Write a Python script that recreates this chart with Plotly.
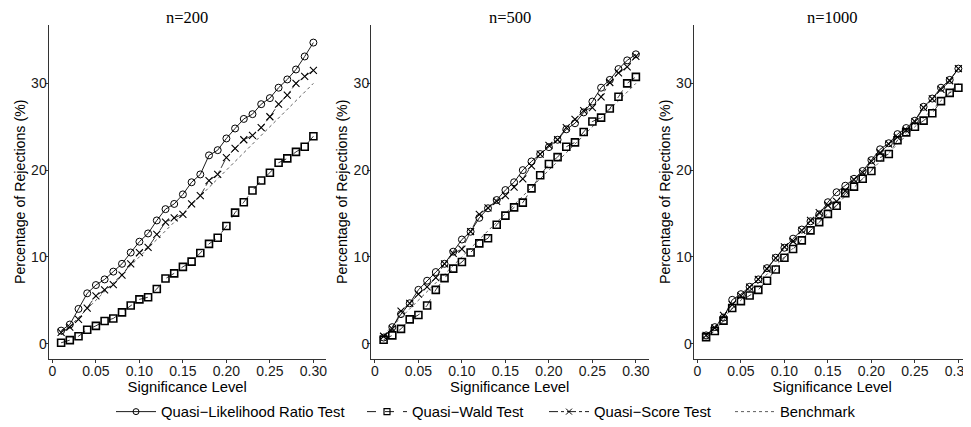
import plotly.graph_objects as go

alpha = [0.01, 0.02, 0.03, 0.04, 0.05, 0.06, 0.07, 0.08, 0.09, 0.10,
         0.11, 0.12, 0.13, 0.14, 0.15, 0.16, 0.17, 0.18, 0.19, 0.20,
         0.21, 0.22, 0.23, 0.24, 0.25, 0.26, 0.27, 0.28, 0.29, 0.30]
panel_titles = ["n=200", "n=500", "n=1000"]

lr_200 = [1.5, 2.2, 4.0, 5.8, 6.75, 7.4, 8.3, 9.2, 10.5, 11.75, 12.7, 14.2, 15.5, 16.1, 17.2,
          18.6, 19.5, 21.7, 22.3, 23.65, 24.8, 25.9, 26.45, 27.6, 28.3, 29.5, 30.45, 31.6, 33.1, 34.7]
score_200 = [1.3, 1.9, 2.8, 4.1, 5.5, 6.2, 6.8, 7.9, 9.2, 10.5, 11.1, 12.6, 14.0, 14.5, 14.9,
             16.1, 17.05, 18.8, 19.5, 21.45, 22.5, 23.5, 24.0, 24.9, 26.15, 27.6, 28.65, 30.0, 30.8, 31.5]
wald_200 = [0.1, 0.4, 0.85, 1.6, 2.05, 2.6, 2.9, 3.6, 4.4, 5.1, 5.35, 6.3, 7.5, 8.1, 8.85,
            9.45, 10.45, 11.5, 12.2, 13.55, 15.1, 16.3, 17.65, 18.8, 19.7, 20.85, 21.35, 22.1, 22.7, 23.9]

lr_500 = [0.7, 1.9, 3.4, 4.65, 6.2, 7.25, 8.25, 9.2, 10.6, 12.0, 12.9, 14.5, 15.6, 16.55, 17.7,
          18.6, 20.0, 21.0, 21.85, 22.65, 23.5, 24.7, 25.4, 26.65, 27.9, 29.5, 30.4, 31.65, 32.65, 33.35]
score_500 = [0.85, 1.7, 3.75, 4.65, 5.7, 6.55, 7.6, 9.2, 10.4, 10.9, 12.9, 14.9, 15.65, 16.4, 17.05,
             18.05, 19.0, 20.5, 21.85, 22.85, 23.5, 24.9, 25.85, 26.85, 27.2, 28.45, 30.1, 31.2, 31.9, 33.1]
wald_500 = [0.45, 0.95, 1.7, 2.8, 3.3, 4.4, 6.2, 7.55, 8.65, 9.4, 10.5, 11.55, 12.15, 13.7, 14.75,
            15.7, 16.25, 17.9, 19.4, 20.7, 21.5, 22.7, 23.2, 24.4, 25.6, 26.05, 27.1, 28.45, 30.0, 30.75]

lr_1000 = [0.95, 1.9, 3.0, 5.05, 5.7, 6.55, 7.4, 8.7, 9.9, 11.05, 12.1, 13.15, 14.1, 14.9, 16.3,
           17.45, 18.2, 19.0, 19.9, 21.15, 22.4, 23.1, 24.15, 24.85, 25.7, 27.3, 28.25, 29.5, 30.4, 31.7]
score_1000 = [0.95, 1.8, 3.25, 4.5, 5.5, 6.5, 7.4, 8.6, 9.85, 11.15, 11.8, 13.05, 14.2, 15.1, 15.95,
              16.4, 17.6, 18.9, 19.7, 21.0, 22.0, 23.0, 23.8, 24.6, 25.6, 27.2, 28.2, 29.3, 30.3, 31.7]
wald_1000 = [0.75, 1.45, 2.65, 4.1, 4.9, 5.55, 6.2, 7.25, 8.55, 9.9, 10.9, 11.9, 13.05, 14.0, 14.95,
             15.9, 17.35, 18.1, 19.0, 19.9, 21.45, 21.85, 23.45, 24.35, 25.0, 25.7, 26.55, 27.95, 28.9, 29.5]

benchmark = [1, 2, 3, 4, 5, 6, 7, 8, 9, 10, 11, 12, 13, 14, 15,
             16, 17, 18, 19, 20, 21, 22, 23, 24, 25, 26, 27, 28, 29, 30]

x_tickvals = [0, 0.05, 0.10, 0.15, 0.20, 0.25, 0.30]
x_ticktext = ["0", "0.05", "0.10", "0.15", "0.20", "0.25", "0.30"]
y_tickvals = [0, 10, 20, 30]

series_names = ["Quasi\u2212Likelihood Ratio Test", "Quasi\u2212Wald Test",
                "Quasi\u2212Score Test", "Benchmark"]
panels = [(lr_200, wald_200, score_200), (lr_500, wald_500, score_500),
          (lr_1000, wald_1000, score_1000)]

W, H = 971, 427
OFF = 8  # page body margin of the browser
x_dom_px = [(48.5, 326.0), (371.0, 648.5), (693.5, 971.0)]
y_top_px, y_bot_px = 24.8, 358.8


def px_x(v):
    return (v - OFF) / W


def px_y(v):
    return 1 - (v - OFF) / H


y_dom = [px_y(y_bot_px), px_y(y_top_px)]

fig = go.Figure()
sans = "Liberation Sans, Arial, Helvetica, sans-serif"
serif = "Liberation Serif, Times New Roman, serif"

for i, (lr, wald, score) in enumerate(panels):
    xa = "x" if i == 0 else f"x{i+1}"
    ya = "y" if i == 0 else f"y{i+1}"
    fig.add_trace(go.Scatter(x=alpha, y=benchmark, mode="lines", name=series_names[3],
                             showlegend=False, xaxis=xa, yaxis=ya,
                             line=dict(color="#333333", width=0.8, dash="dot")))
    fig.add_trace(go.Scatter(x=alpha, y=wald, mode="lines+markers", name=series_names[1],
                             showlegend=False, xaxis=xa, yaxis=ya,
                             line=dict(color="black", width=0.8, dash="dash"),
                             marker=dict(symbol="square-open", size=7, color="black",
                                         line=dict(width=1.6, color="black"))))
    fig.add_trace(go.Scatter(x=alpha, y=score, mode="lines+markers", name=series_names[2],
                             showlegend=False, xaxis=xa, yaxis=ya,
                             line=dict(color="black", width=0.8, dash="dashdot"),
                             marker=dict(symbol="x-thin-open", size=7, color="black",
                                         line=dict(width=1.1, color="black"))))
    fig.add_trace(go.Scatter(x=alpha, y=lr, mode="lines+markers", name=series_names[0],
                             showlegend=False, xaxis=xa, yaxis=ya,
                             line=dict(color="black", width=0.9),
                             marker=dict(symbol="circle-open", size=7, color="black",
                                         line=dict(width=1.0, color="black"))))

legend_specs = [
    (series_names[0], dict(color="black", width=0.9), dict(symbol="circle-open", size=6, color="black", line=dict(width=1.0))),
    (series_names[1], dict(color="black", width=0.9, dash="dash"), dict(symbol="square-open", size=6, color="black", line=dict(width=1.2))),
    (series_names[2], dict(color="black", width=0.9, dash="dashdot"), dict(symbol="x-thin-open", size=6, color="black", line=dict(width=1.0))),
    (series_names[3], dict(color="#333333", width=0.8, dash="dot"), None),
]
legend_keys = ["legend", "legend2", "legend3", "legend4"]
legend_text_px = [162, 413, 595, 781]
for (name, ln, mk), lk in zip(legend_specs, legend_keys):
    fig.add_trace(go.Scatter(x=[None], y=[None], name=name, mode="lines+markers" if mk else "lines",
                             line=ln, marker=mk, showlegend=True, legend=lk, xaxis="x", yaxis="y"))

layout = dict(
    width=W, height=H,
    margin=dict(l=0, r=0, t=0, b=0),
    plot_bgcolor="white", paper_bgcolor="white",
    font=dict(family=sans, size=14, color="black"),
    showlegend=True,
    annotations=[],
)
for lk, tx in zip(legend_keys, legend_text_px):
    layout[lk] = dict(orientation="h", x=(tx - 51 - OFF) / W, xanchor="left",
                      y=px_y(412), yanchor="middle", itemwidth=40,
                      font=dict(family=sans, size=14.8, color="black"),
                      bgcolor="rgba(0,0,0,0)", borderwidth=0)

for i in range(3):
    xk = "xaxis" if i == 0 else f"xaxis{i+1}"
    yk = "yaxis" if i == 0 else f"yaxis{i+1}"
    ya = "y" if i == 0 else f"y{i+1}"
    xa = "x" if i == 0 else f"x{i+1}"
    x0, x1 = x_dom_px[i]
    layout[xk] = dict(domain=[px_x(x0), min(px_x(x1), 1.0)], anchor=ya, range=[-0.0045, 0.3145],
                      tickvals=x_tickvals, ticktext=x_ticktext, ticks="outside", ticklen=3,
                      tickcolor="#333333", showline=True, linecolor="#333333", linewidth=1,
                      showgrid=False, zeroline=False, automargin=False, ticklabelstandoff=-4,
                      tickfont=dict(family=sans, size=14, color="#1a1a1a"),
                      title=dict(text="Significance Level", standoff=0,
                                 font=dict(family=sans, size=14.8, color="black")))
    layout[yk] = dict(domain=y_dom, anchor=xa, range=[-1.75, 36.75],
                      tickvals=y_tickvals, ticks="outside", ticklen=3,
                      tickcolor="#333333", showline=True, linecolor="#333333", linewidth=1,
                      showgrid=False, zeroline=False, automargin=False, ticklabelstandoff=-5,
                      tickfont=dict(family=sans, size=14, color="#1a1a1a"),
                      title=dict(text="Percentage of Rejections (%)", standoff=2,
                                 font=dict(family=sans, size=14.2, color="black")))
    layout["annotations"].append(dict(text=panel_titles[i], xref="paper", yref="paper",
                                      x=px_x((x0 + x1) / 2), y=1.0, xanchor="center",
                                      yanchor="top", yshift=2, showarrow=False,
                                      font=dict(family=serif, size=16.5, color="black")))

fig.update_layout(**layout)
fig.write_html("out.html")
